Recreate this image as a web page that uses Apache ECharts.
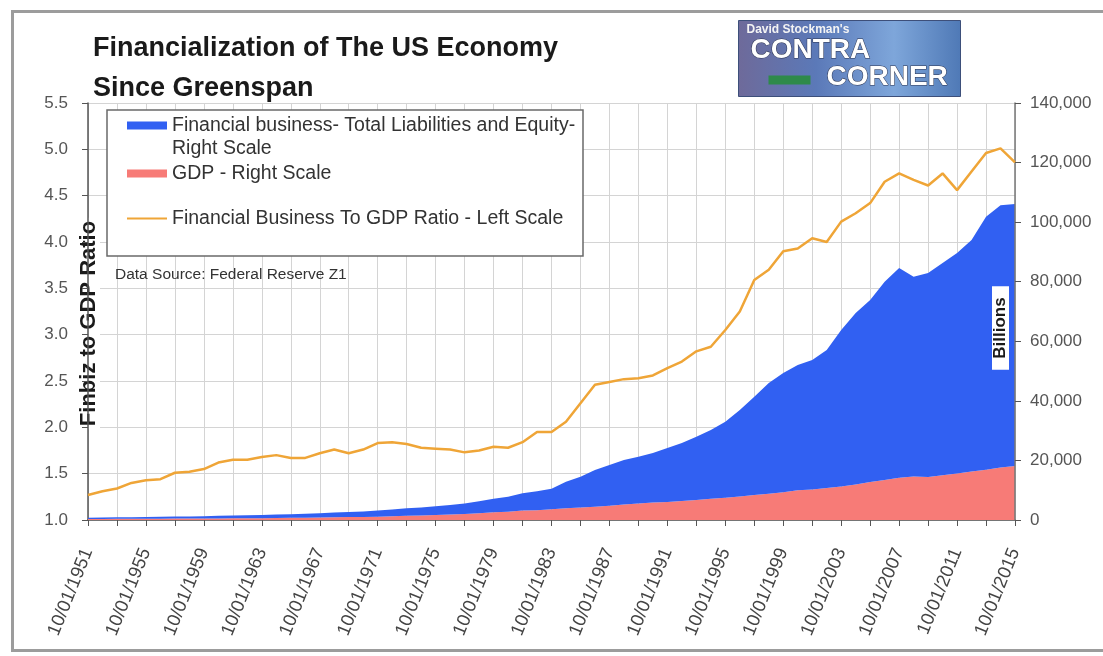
<!DOCTYPE html>
<html>
<head>
<meta charset="utf-8">
<title>Financialization of The US Economy</title>
<script src="https://cdn.jsdelivr.net/npm/echarts@6/dist/echarts.min.js"></script>
<style>
  html, body { margin: 0; padding: 0; background: #fff; }
  #frame {
    position: absolute; left: 11px; top: 10px; width: 1092px; height: 642px;
    border-top: 3px solid #9c9c9c; border-left: 3px solid #9c9c9c; border-bottom: 3px solid #9c9c9c;
    box-sizing: border-box;
  }
  #chart { position: absolute; left: 0; top: 0; width: 1103px; height: 656px; }
</style>
</head>
<body>
<div id="frame"></div>
<div id="chart"></div>
<script>
// yearly readings, 10/01 of each year, 1951..2015
const years = []
for (let y = 1951; y <= 2015; y++) years.push(y)
const categories = years.map((y) => '10/01/' + y)

// GDP, billions (right scale)
const gdp = [
  350, 370, 385, 390, 425, 450, 470, 480, 510, 530,
  555, 590, 620, 670, 720, 785, 830, 910, 985, 1040,
  1130, 1250, 1390, 1510, 1660, 1820, 2030, 2300, 2560, 2800,
  3150, 3270, 3570, 3930, 4220, 4460, 4780, 5170, 5550, 5870,
  6070, 6420, 6730, 7120, 7440, 7850, 8360, 8790, 9340, 10020,
  10280, 10720, 11270, 11960, 12760, 13460, 14150, 14580, 14400, 15060,
  15590, 16270, 16870, 17600, 18140
]

// Financial business total liabilities and equity, billions (stacked on GDP)
const finLiabilities = [
  445, 485, 515, 545, 610, 650, 710, 730, 790, 860,
  915, 975, 1040, 1140, 1200, 1310, 1430, 1600, 1690, 1830,
  2070, 2300, 2530, 2690, 2940, 3200, 3510, 4030, 4580, 4980,
  5800, 6380, 6960, 8920, 10330, 12320, 13680, 14960, 15700, 16610,
  18090, 19420, 21230, 23080, 25550, 29050, 33020, 37190, 39990, 41980,
  43420, 46330, 52490, 57510, 61070, 66520, 70420, 67070, 68500, 71190,
  74010, 77700, 84930, 88100, 87910
]

// Financial business to GDP ratio (left scale)
const ratio = [
  1.27, 1.31, 1.34, 1.40, 1.43, 1.44, 1.51, 1.52, 1.55, 1.62,
  1.65, 1.65, 1.68, 1.70, 1.67, 1.67, 1.72, 1.76, 1.72, 1.76,
  1.83, 1.84, 1.82, 1.78, 1.77, 1.76, 1.73, 1.75, 1.79, 1.78,
  1.84, 1.95, 1.95, 2.06, 2.26, 2.46, 2.49, 2.52, 2.53, 2.56,
  2.64, 2.71, 2.82, 2.87, 3.05, 3.25, 3.59, 3.70, 3.90, 3.93,
  4.04, 4.00, 4.22, 4.31, 4.42, 4.65, 4.74, 4.67, 4.61, 4.74,
  4.56, 4.76, 4.96, 5.01, 4.86
]

const FIN = 'Financial business- Total Liabilities and Equity- Right Scale'
const GDP = 'GDP - Right Scale'
const RATIO = 'Financial Business To GDP Ratio - Left Scale'

const font = '"Liberation Sans", Arial, sans-serif'
const blue = '#3160F2'
const pink = '#F77B77'
const orange = '#EFA537'

const chart = echarts.init(document.getElementById('chart'), null, { renderer: 'canvas' })

chart.setOption({
  backgroundColor: 'transparent',
  animation: false,
  textStyle: { fontFamily: font },
  title: {
    text: 'Financialization of The US Economy\nSince Greenspan',
    left: 88,
    top: 24,
    textStyle: { fontSize: 27, fontWeight: 'bold', color: '#1a1a1a', lineHeight: 40, fontFamily: font }
  },
  legend: [
    {
      data: [{ name: FIN, icon: 'rect' }, { name: GDP, icon: 'rect' }],
      orient: 'vertical',
      left: 127,
      top: 91,
      padding: 0,
      itemGap: 2,
      itemWidth: 40,
      itemHeight: 8,
      z: 6,
      formatter: (name) => name === FIN
        ? '\nFinancial business- Total Liabilities and Equity-\nRight Scale'
        : name,
      textStyle: { fontSize: 19.5, lineHeight: 23, color: '#333', fontFamily: font }
    },
    {
      data: [{ name: RATIO, icon: 'rect' }],
      orient: 'vertical',
      left: 127,
      top: 207,
      padding: 0,
      itemWidth: 40,
      itemHeight: 2,
      z: 6,
      textStyle: { fontSize: 19.5, lineHeight: 23, color: '#333', fontFamily: font }
    }
  ],
  grid: { left: 88, right: 88, top: 103, bottom: 136, containLabel: false, outerBoundsMode: 'none' },
  xAxis: {
    type: 'category',
    data: categories,
    boundaryGap: false,
    axisLine: { lineStyle: { color: '#555', width: 1.5 } },
    axisTick: { interval: 1, length: 6, lineStyle: { color: '#555' } },
    axisLabel: { interval: 3, rotate: 68, margin: 29, fontSize: 18.5, color: '#444', fontFamily: font },
    splitLine: { show: true, interval: 1, lineStyle: { color: '#d4d4d4', width: 1 } }
  },
  yAxis: [
    {
      type: 'value',
      min: 1,
      max: 5.5,
      interval: 0.5,
      position: 'left',
      name: '{b|Finbiz to GDP Ratio}{sp|}',
      nameLocation: 'middle',
      nameGap: -12,
      nameMoveOverlap: false,
      nameTextStyle: {
        rich: {
          b: { fontSize: 22, fontWeight: 'bold', color: '#1a1a1a', backgroundColor: '#fff', padding: [0, 3], fontFamily: font },
          sp: { width: 24 }
        }
      },
      axisLine: { show: true, lineStyle: { color: '#555', width: 1.5 } },
      axisTick: { show: true, length: 6, lineStyle: { color: '#555' } },
      axisLabel: { formatter: (v) => v.toFixed(1), fontSize: 17, color: '#555', margin: 20, fontFamily: font },
      splitLine: { show: true, lineStyle: { color: '#d4d4d4', width: 1 } }
    },
    {
      type: 'value',
      min: 0,
      max: 140000,
      interval: 20000,
      position: 'right',
      z: 3,
      name: '{b|Billions}{sp|}',
      nameLocation: 'middle',
      nameGap: -23,
      nameMoveOverlap: false,
      nameTextStyle: {
        rich: {
          b: { fontSize: 17, fontWeight: 'bold', color: '#1a1a1a', backgroundColor: '#fff', padding: [0, 11], fontFamily: font },
          sp: { width: 33 }
        }
      },
      axisLine: { show: true, lineStyle: { color: '#777', width: 1.5 } },
      axisTick: { show: true, length: 6, lineStyle: { color: '#555' } },
      axisLabel: {
        formatter: (v) => v.toLocaleString('en-US'),
        fontSize: 17, color: '#555', margin: 15, fontFamily: font
      },
      splitLine: { show: false }
    }
  ],
  series: [
    {
      name: GDP,
      type: 'line',
      yAxisIndex: 1,
      stack: 'right',
      data: gdp,
      symbol: 'none',
      color: pink,
      lineStyle: { width: 0 },
      areaStyle: { color: pink, opacity: 1 },
      z: 2
    },
    {
      name: FIN,
      type: 'line',
      yAxisIndex: 1,
      stack: 'right',
      data: finLiabilities,
      symbol: 'none',
      color: blue,
      lineStyle: { width: 0 },
      areaStyle: { color: blue, opacity: 1 },
      z: 2
    },
    {
      name: RATIO,
      type: 'line',
      yAxisIndex: 0,
      data: ratio,
      symbol: 'none',
      color: orange,
      lineStyle: { width: 2.5, color: orange },
      z: 4
    }
  ],
  graphic: [
    {
      type: 'rect',
      z: 5,
      shape: { x: 107, y: 110, width: 476, height: 146 },
      style: { fill: '#fff', stroke: '#6a6a6a', lineWidth: 1.5 }
    },
    {
      type: 'text',
      z: 5,
      left: 115,
      top: 267,
      style: { text: 'Data Source: Federal Reserve Z1', fontSize: 15.5, fill: '#333', fontFamily: font }
    },
    {
      type: 'group',
      left: 738,
      top: 20,
      z: 6,
      children: [
        {
          type: 'rect',
          shape: { x: 0, y: 0, width: 222, height: 76 },
          style: {
            fill: new echarts.graphic.LinearGradient(0, 0, 1, 0, [
              { offset: 0, color: '#6e6a9a' },
              { offset: 0.35, color: '#5b79b8' },
              { offset: 0.7, color: '#7ea6da' },
              { offset: 1, color: '#4f79b6' }
            ]),
            stroke: '#3d4f7a',
            lineWidth: 1
          }
        },
        {
          type: 'text',
          x: 8, y: 3,
          style: { text: "David Stockman's", fontSize: 12, fontWeight: 'bold', fill: '#f4f4f4', fontFamily: font }
        },
        {
          type: 'text',
          x: 12, y: 16,
          style: { text: 'CONTRA', fontSize: 28, fontWeight: 'bold', fill: '#fff', stroke: '#2d3550', lineWidth: 1, fontFamily: font }
        },
        {
          type: 'rect',
          shape: { x: 30, y: 55, width: 42, height: 9 },
          style: { fill: '#2e8a4a' }
        },
        {
          type: 'text',
          x: 88, y: 43,
          style: { text: 'CORNER', fontSize: 28, fontWeight: 'bold', fill: '#fff', stroke: '#2d3550', lineWidth: 1, fontFamily: font }
        }
      ]
    }
  ]
})
</script>
</body>
</html>
